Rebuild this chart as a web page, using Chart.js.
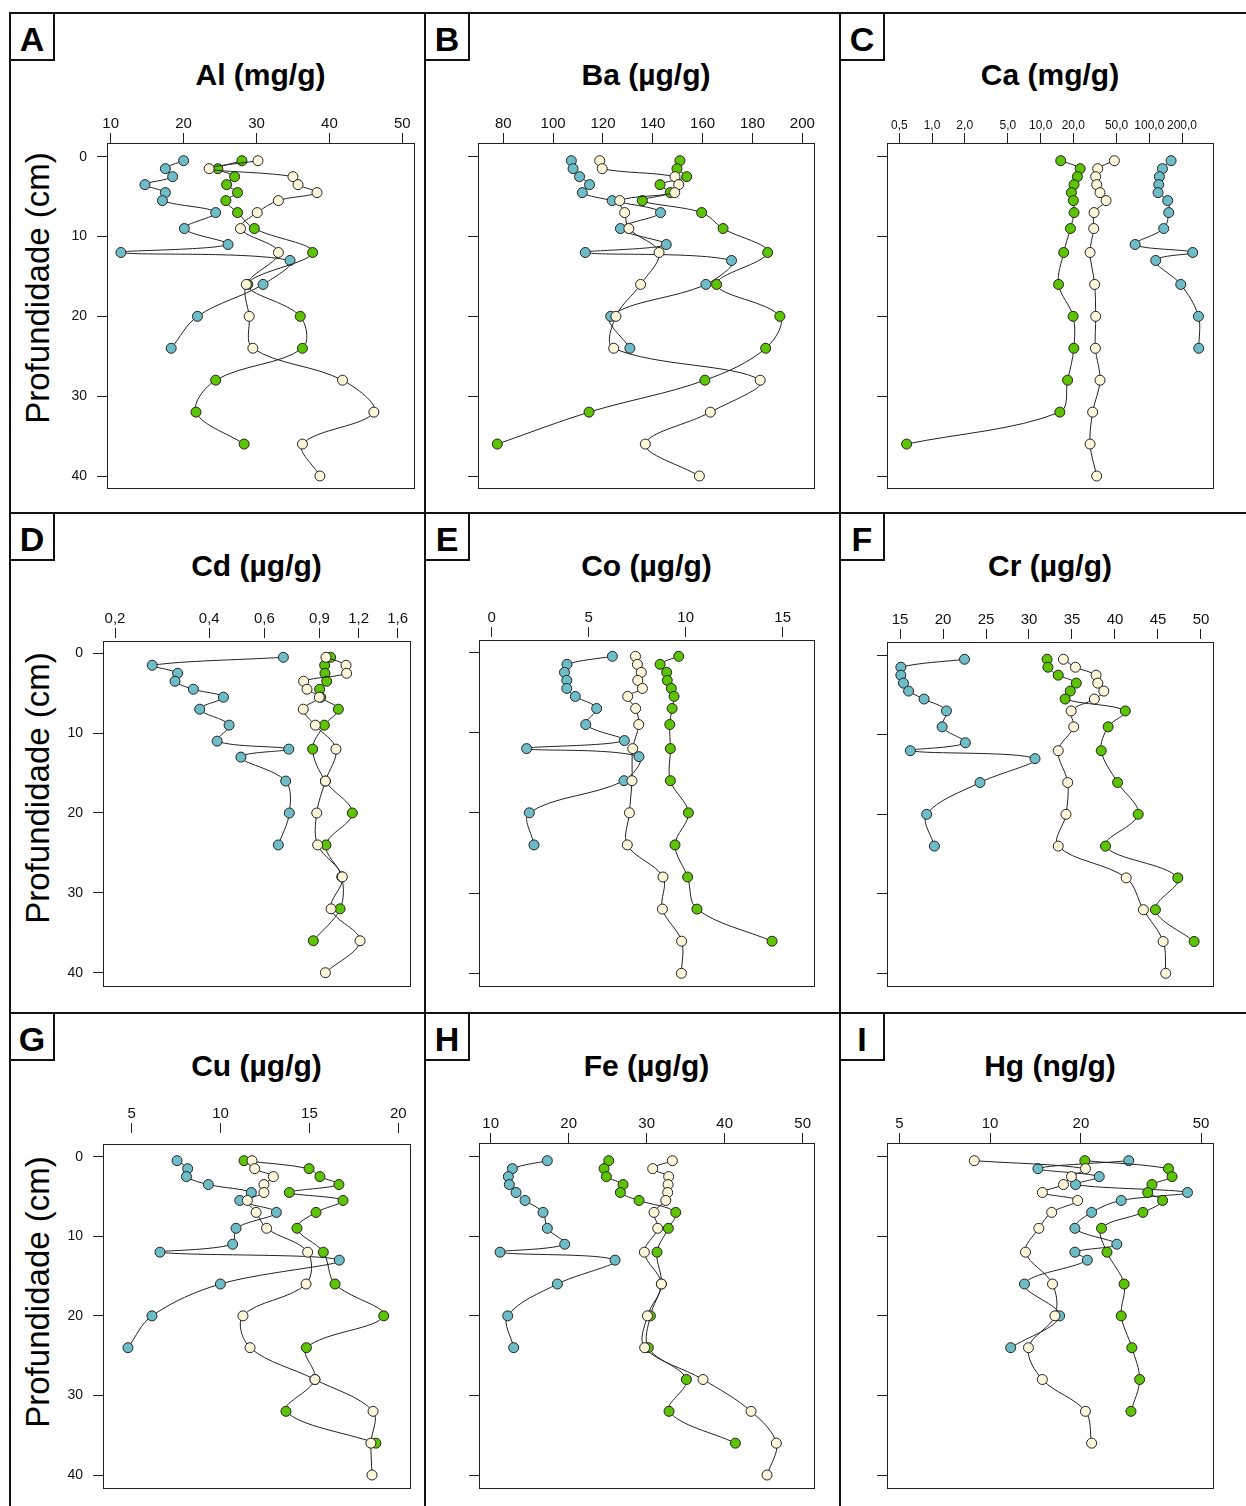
<!DOCTYPE html>
<html>
<head>
<meta charset="utf-8">
<script src="https://cdn.jsdelivr.net/npm/chart.js@4.4.1/dist/chart.umd.min.js"></script>
<style>
body{margin:0;background:#fff;font-family:"Liberation Sans",Arial,sans-serif;}
#page{position:relative;width:1246px;height:1506px;overflow:hidden;background:#fff;}
.ln{position:absolute;background:#111;}
.lbl{position:absolute;width:46px;height:49px;border:2px solid #111;box-sizing:border-box;font-weight:bold;font-size:34px;line-height:34px;padding-top:8px;text-align:center;color:#000;}
.ttl{position:absolute;width:300px;text-align:center;font-weight:bold;font-size:30px;line-height:30px;color:#000;white-space:nowrap;}
.ylab{position:absolute;width:320px;height:34px;font-size:33px;line-height:34px;text-align:center;transform:rotate(-90deg);color:#000;white-space:nowrap;}
canvas{position:absolute;}
</style>
</head>
<body>
<div id="page"></div>
<script>
// sample depths (cm) for each core
const depthBlue  = [0.5,1.5,2.5,3.5,4.5,5.5,7,9,11,12,13,16,20,24];
const depthGreen = [0.5,1.5,2.5,3.5,4.5,5.5,7,9,12,16,20,24,28,32,36];
const depthCream = [0.5,1.5,2.5,3.5,4.5,5.5,7,9,12,16,20,24,28,32,36,40];
const depthTicks = [0,10,20,30,40];

const alBlue  = [20.0,17.5,18.5,14.7,17.5,17.1,24.4,20.1,26.1,11.4,34.6,30.9,21.9,18.3];
const alGreen = [28.0,24.7,27.0,25.9,27.4,25.8,27.4,29.7,37.7,28.8,36.0,36.3,24.4,21.7,28.3];
const alCream = [30.2,23.5,35.0,35.7,38.3,33.0,30.1,27.8,33.0,28.6,29.0,29.5,41.8,46.1,36.3,38.7];
const alTicks = [10,20,30,40,50];

const baBlue  = [107.3,108.0,110.6,114.6,111.7,123.7,143.1,127.0,145.4,112.9,171.6,161.3,123.1,130.8];
const baGreen = [150.9,149.7,153.6,142.9,147.0,135.8,159.6,168.2,186.1,165.6,191.0,185.3,160.9,114.4,77.6];
const baCream = [118.7,119.7,148.9,150.4,148.8,126.7,128.7,130.4,142.5,135.1,125.2,124.3,183.1,163.1,137.0,158.7];
const baTicks = [80,100,120,140,160,180,200];

const caBlue  = [158.7,132.1,123.9,122.2,120.4,147.8,151.0,135.8,74.0,251.0,114.6,194.8,283.3,285.3];
const caGreen = [15.3,23.1,21.8,20.3,19.2,20.0,20.3,18.8,16.3,14.6,19.9,20.2,17.7,15.0,0.584];
const caCream = [47.7,33.5,32.1,32.8,35.2,40.0,31.0,30.8,28.5,31.4,32.1,31.9,35.2,30.1,28.5,32.8];
const caTicks = [0.5,1,2,5,10,20,50,100,200];

const cdBlue  = [0.690,0.263,0.317,0.311,0.356,0.444,0.373,0.463,0.424,0.718,0.505,0.702,0.721,0.665];
const cdGreen = [0.977,0.935,0.937,0.949,0.901,0.908,1.034,0.933,0.856,0.940,1.146,0.944,1.060,1.047,0.860];
const cdCream = [0.944,1.094,1.099,0.801,0.821,0.899,0.799,0.873,1.016,0.940,0.882,0.888,1.065,0.980,1.213,0.940];
const cdTicks = [0.2,0.4,0.6,0.9,1.2,1.6];

const coBlue  = [6.22,3.88,3.75,3.87,3.87,4.31,5.41,4.85,6.84,1.80,7.59,6.82,1.94,2.18];
const coGreen = [9.64,8.68,9.02,9.05,9.26,9.40,9.30,9.18,9.21,9.21,10.14,9.45,10.10,10.58,14.45];
const coCream = [7.41,7.51,7.71,7.53,7.77,7.01,7.42,7.58,7.27,7.23,7.10,6.99,8.83,8.80,9.79,9.78];
const coTicks = [0,5,10,15];

const crBlue  = [22.5,15.1,15.1,15.4,16.0,17.8,20.4,19.9,22.6,16.2,30.7,24.3,18.1,19.0];
const crGreen = [32.1,32.2,33.4,35.5,34.8,34.2,41.2,39.2,38.4,40.3,42.7,38.9,47.3,44.7,49.2];
const crCream = [34.0,35.4,37.8,38.0,38.7,37.6,34.9,35.2,33.4,34.5,34.3,33.4,41.3,43.3,45.6,45.9];
const crTicks = [15,20,25,30,35,40,45,50];

const cuBlue  = [7.55,8.15,8.08,9.31,11.73,11.08,13.14,10.87,10.68,6.59,16.68,9.99,6.14,4.79];
const cuGreen = [11.32,14.98,15.59,16.66,13.87,16.89,15.37,14.30,15.78,16.44,19.18,14.83,15.31,13.68,18.74];
const cuCream = [11.77,11.92,12.97,12.44,12.44,11.51,12.00,12.59,14.90,14.81,11.26,11.66,15.31,18.58,18.46,18.52];
const cuTicks = [5,10,15,20];

const feBlue  = [17.26,12.78,12.26,12.39,13.25,14.40,16.71,17.26,19.49,11.20,25.94,18.55,12.18,12.95];
const feGreen = [25.13,24.53,24.83,26.97,26.62,29.02,33.72,32.78,31.32,31.88,30.47,30.21,35.09,32.86,41.37];
const feCream = [33.29,30.77,32.82,32.74,32.69,32.44,30.94,31.41,29.70,31.88,30.09,29.74,37.22,43.38,46.62,45.43];
const feTicks = [10,20,30,40,50];

const hgBlue  = [28.8,14.4,23.0,19.2,45.1,27.2,21.7,19.1,26.3,19.1,21.0,13.0,17.0,11.7];
const hgGreen = [20.6,39.0,40.1,34.4,33.3,37.3,32.1,23.4,24.4,27.8,27.2,29.5,31.3,29.3,null];
const hgCream = [8.86,20.7,18.6,17.5,14.9,19.5,16.0,14.5,13.1,16.1,16.4,13.4,14.9,20.7,21.7,null];
const hgTicks = [5,10,20,50];

const colBlue = '#6dbdc9', colGreen = '#5cc400', colCream = '#fff6da';

Chart.defaults.font.family = '"Liberation Sans", Arial, sans-serif';
Chart.defaults.color = '#111';

const page = document.getElementById('page');

function addDiv(cls, css, text) {
    const d = document.createElement('div');
    d.className = cls;
    Object.assign(d.style, css);
    if (text) d.textContent = text;
    page.appendChild(d);
    return d;
}

// outer frame
addDiv('ln', {left:'9px', top:'12px', width:'1237px', height:'2px'});
addDiv('ln', {left:'9px', top:'12px', width:'2px', height:'1494px'});
addDiv('ln', {left:'424px', top:'12px', width:'2px', height:'1494px'});
addDiv('ln', {left:'839px', top:'12px', width:'2px', height:'1494px'});
addDiv('ln', {left:'9px', top:'512px', width:'1237px', height:'2px'});
addDiv('ln', {left:'9px', top:'1012px', width:'1237px', height:'2px'});

const comma1 = v => Number(v).toFixed(1).replace('.', ',');
const plain = v => String(v);

const panels = [
    {L:'A', t:'Al (mg/g)', b:alBlue, g:alGreen, c:alCream, ticks:alTicks, fmt:plain, log:false, col:0, row:0,
     box:[107,143,414,488], gap:0, y0:156.7, y40:476, xa:[10,110.7], xb:[50,402.3], fs:15},
    {L:'B', t:'Ba (µg/g)', b:baBlue, g:baGreen, c:baCream, ticks:baTicks, fmt:plain, log:false, col:1, row:0,
     box:[478,143,814,488], gap:0, y0:156.7, y40:476, xa:[80,503.3], xb:[200,802.3], fs:15},
    {L:'C', t:'Ca (mg/g)', b:caBlue, g:caGreen, c:caCream, ticks:caTicks, fmt:comma1, log:true, col:2, row:0,
     box:[887,143,1213,488], gap:0, y0:156.7, y40:476, xa:[0.5,899.3], xb:[200,1182], fs:12},
    {L:'D', t:'Cd (µg/g)', b:cdBlue, g:cdGreen, c:cdCream, ticks:cdTicks, fmt:comma1, log:true, col:0, row:1,
     box:[103,641,410,986], gap:3, y0:653.3, y40:972.7, xa:[0.2,115], xb:[1.6,397.7], fs:15},
    {L:'E', t:'Co (µg/g)', b:coBlue, g:coGreen, c:coCream, ticks:coTicks, fmt:plain, log:false, col:1, row:1,
     box:[479,640,814,986], gap:3, y0:652.3, y40:973.3, xa:[0,491.7], xb:[15,782.7], fs:15},
    {L:'F', t:'Cr (µg/g)', b:crBlue, g:crGreen, c:crCream, ticks:crTicks, fmt:plain, log:false, col:2, row:1,
     box:[887,642,1213,986], gap:3, y0:655.3, y40:973.3, xa:[15,900], xb:[50,1201], fs:15},
    {L:'G', t:'Cu (µg/g)', b:cuBlue, g:cuGreen, c:cuCream, ticks:cuTicks, fmt:plain, log:false, col:0, row:2,
     box:[103,1144,410,1488], gap:11, y0:1156.7, y40:1475, xa:[5,131.7], xb:[20,398.3], fs:15},
    {L:'H', t:'Fe (µg/g)', b:feBlue, g:feGreen, c:feCream, ticks:feTicks, fmt:plain, log:false, col:1, row:2,
     box:[479,1143,814,1488], gap:0, y0:1156.7, y40:1475, xa:[10,490.7], xb:[50,802.7], fs:15},
    {L:'I', t:'Hg (ng/g)', b:hgBlue, g:hgGreen, c:hgCream, ticks:hgTicks, fmt:plain, log:true, col:2, row:2,
     box:[887,1143,1213,1488], gap:0, y0:1156.7, y40:1475, xa:[5,899.3], xb:[50,1201], fs:15}
];

const colX = [10, 425, 840];
const rowY = [13, 513, 1013];
const titleTop = [60, 551, 1051];
const ylabCenter = [288, 788, 1292];

// box around the plotting region
const boxPlugin = {
    id: 'box',
    afterDraw(chart, args, opts) {
        const a = chart.chartArea, ctx = chart.ctx;
        ctx.save();
        ctx.strokeStyle = '#222';
        ctx.lineWidth = 1;
        ctx.strokeRect(a.left + 0.5, a.top + opts.gap + 0.5, a.right - a.left, a.bottom - a.top - opts.gap);
        ctx.restore();
    }
};

function pts(depths, vals) {
    const out = [];
    vals.forEach((v, i) => { if (v !== null) out.push({x: v, y: depths[i]}); });
    return out;
}

function serie(data, fill, order) {
    return {
        data: data, showLine: true, order: order,
        borderColor: '#222', borderWidth: 1, tension: 0.35,
        pointRadius: 5, pointHoverRadius: 5,
        pointBackgroundColor: fill, pointBorderColor: '#222', pointBorderWidth: 1
    };
}

const AX = 40, PR = 26, PB = 6;

panels.forEach(p => {
    const px = colX[p.col], py = rowY[p.row];
    addDiv('lbl', {left:(px-1)+'px', top:(py-1)+'px'}, p.L);
    addDiv('ttl', {left:((p.box[0]+p.box[2])/2 - 150)+'px', top:titleTop[p.row]+'px'}, p.t);
    if (p.col === 0) addDiv('ylab', {left:(38-160)+'px', top:(ylabCenter[p.row]-17)+'px'}, 'Profundidade (cm)');

    const left = p.box[0], top = p.box[1] - p.gap, right = p.box[2], bottom = p.box[3];
    const cv = document.createElement('canvas');
    cv.width = (right - left) + AX + PR;
    cv.height = (bottom - top) + AX + PB;
    cv.style.left = (left - AX) + 'px';
    cv.style.top = (top - AX) + 'px';
    cv.style.width = cv.width + 'px';
    cv.style.height = cv.height + 'px';
    page.appendChild(cv);

    let xmin, xmax;
    const va = p.xa[0], pa = p.xa[1], vb = p.xb[0], pb = p.xb[1];
    if (p.log) {
        const k = (pb - pa) / (Math.log10(vb) - Math.log10(va));
        xmin = Math.pow(10, Math.log10(va) + (left - pa) / k);
        xmax = Math.pow(10, Math.log10(va) + (right - pa) / k);
    } else {
        const k = (pb - pa) / (vb - va);
        xmin = va + (left - pa) / k;
        xmax = va + (right - pa) / k;
    }
    const ky = (p.y40 - p.y0) / 40;
    const ymin = (top - p.y0) / ky, ymax = (bottom - p.y0) / ky;

    new Chart(cv, {
        type: 'scatter',
        data: {
            datasets: [
                serie(pts(depthBlue, p.b), colBlue, 3),
                serie(pts(depthGreen, p.g), colGreen, 2),
                serie(pts(depthCream, p.c), colCream, 1)
            ]
        },
        options: {
            responsive: false,
            animation: false,
            events: [],
            layout: {padding: {left: 0, top: 0, right: PR, bottom: PB}, autoPadding: false},
            plugins: {legend: {display: false}, tooltip: {enabled: false}, box: {gap: p.gap}},
            scales: {
                x: {
                    type: p.log ? 'logarithmic' : 'linear',
                    position: 'top', bounds: 'data', min: xmin, max: xmax,
                    afterBuildTicks: s => { s.ticks = p.ticks.map(v => ({value: v})); },
                    afterFit: s => { s.height = AX; s.paddingLeft = 0; s.paddingRight = 0; },
                    ticks: {autoSkip: false, maxRotation: 0, minRotation: 0, padding: 0, color: '#111',
                            font: {size: p.fs}, callback: v => p.fmt(v)},
                    grid: {drawOnChartArea: false, drawTicks: true, tickLength: 10, color: '#222', lineWidth: 1},
                    border: {display: false}
                },
                y: {
                    type: 'linear', reverse: true, bounds: 'data', min: ymin, max: ymax,
                    afterBuildTicks: s => { s.ticks = depthTicks.map(v => ({value: v})); },
                    afterFit: s => { s.width = AX; s.paddingTop = 0; s.paddingBottom = 0; },
                    ticks: {display: p.col === 0, padding: 10, color: '#111', font: {size: 14}},
                    grid: {drawOnChartArea: false, drawTicks: true, tickLength: 10, color: '#222', lineWidth: 1},
                    border: {display: false}
                }
            }
        },
        plugins: [boxPlugin]
    });
});
</script>
</body>
</html>
